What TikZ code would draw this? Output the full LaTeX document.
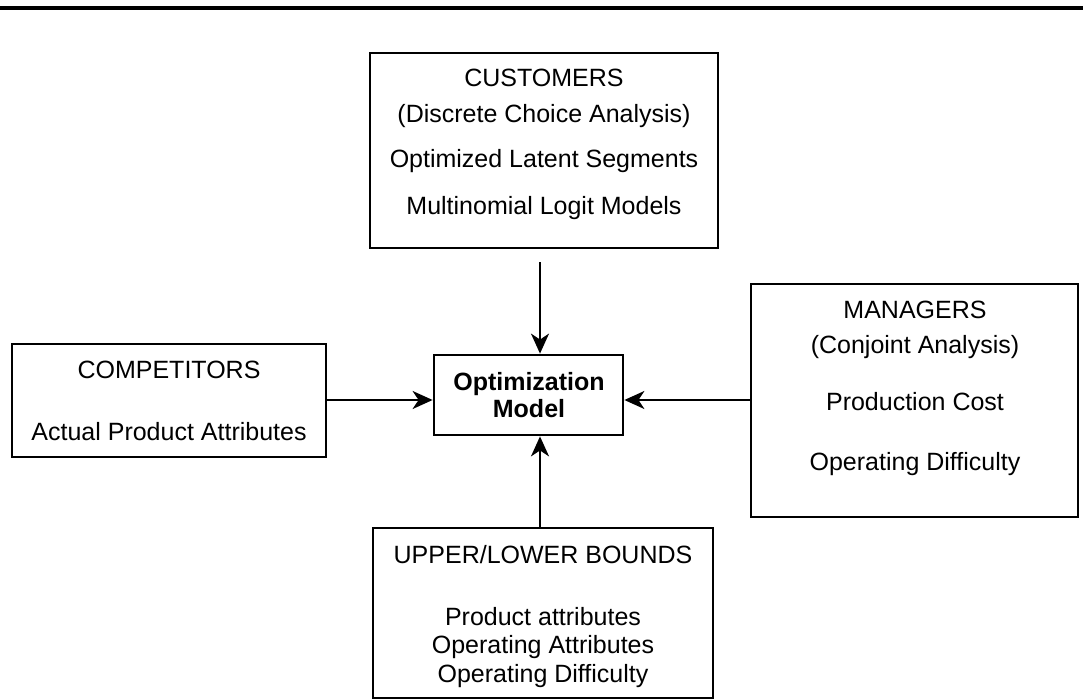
\documentclass[tikz,border=0pt]{standalone}
\usepackage{fontspec}
\setmainfont{Liberation Sans}
\usetikzlibrary{arrows.meta}
\begin{document}
\begin{tikzpicture}[x=1pt,y=-1pt,
  box/.style={draw,line width=2.8pt,inner sep=0pt,minimum width=#1},
  txt/.style={anchor=base,inner sep=0pt,font=\fontsize{25}{30}\selectfont},
  btxt/.style={anchor=base,inner sep=0pt,font=\fontsize{25}{30}\selectfont\bfseries},
  arr/.style={line width=2.2pt,-{Stealth[length=20pt,width=18pt,inset=6pt]}}]
\useasboundingbox (0,0) rectangle (1083,700);
\draw[line width=4pt] (0,8) -- (1083,8);
% boxes
\node[box=348pt,minimum height=195pt] (cust) at (544,150.5) {};
\node[box=314pt,minimum height=113pt] (comp) at (169,400.5) {};
\node[box=189pt,minimum height=80pt] (opt) at (528.5,395) {};
\node[box=327pt,minimum height=233pt] (mgr) at (914.5,400.5) {};
\node[box=340pt,minimum height=170pt] (bnd) at (543,613) {};
% texts
\node[txt] (c1) at (544,87) {CUSTOMERS};
\node[txt] (c2) at (544,123) {(Discrete Choice Analysis)};
\node[txt] (c3) at (544,168) {Optimized Latent Segments};
\node[txt] (c4) at (544,215) {Multinomial Logit Models};
\node[txt] (k1) at (169,378) {COMPETITORS};
\node[txt] (k2) at (169,440) {Actual Product Attributes};
\node[btxt] (o1) at (529,390) {Optimization};
\node[btxt] (o2) at (529,417) {Model};
\node[txt] (m1) at (915,318) {MANAGERS};
\node[txt] (m2) at (915,353) {(Conjoint Analysis)};
\node[txt] (m3) at (915,410) {Production Cost};
\node[txt] (m4) at (915,470) {Operating Difficulty};
\node[txt] (b1) at (543,563) {UPPER/LOWER BOUNDS};
\node[txt] (b2) at (543,625) {Product attributes};
\node[txt] (b3) at (543,653) {Operating Attributes};
\node[txt] (b4) at (543,682) {Operating Difficulty};
% connectors
\coordinate (ax) at (540,0);
\coordinate (ay) at (0,400);
\draw[arr,shorten <=13pt] (cust.south -| ax) -- (opt.north -| ax);
\draw[arr] (bnd.north -| ax) -- (opt.south -| ax);
\draw[arr] (comp.east |- ay) -- (opt.west |- ay);
\draw[arr] (mgr.west |- ay) -- (opt.east |- ay);
\end{tikzpicture}
\end{document}
